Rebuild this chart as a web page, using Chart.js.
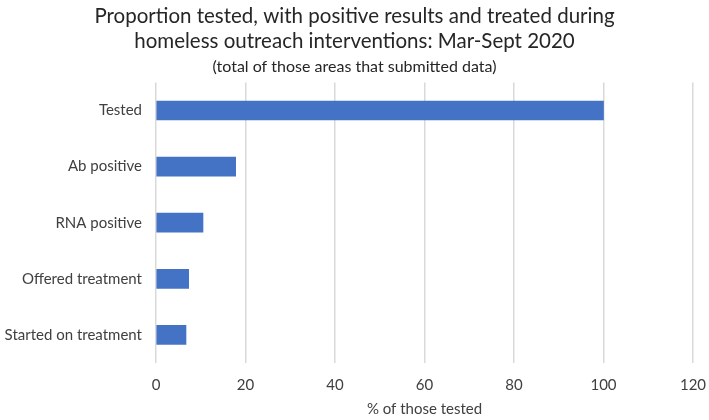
<!DOCTYPE html>
<html>
<head>
<meta charset="utf-8">
<script src="https://cdn.jsdelivr.net/npm/chart.js@4.4.0/dist/chart.umd.min.js"></script>
<style>
  html, body { margin: 0; padding: 0; background: #fff; }
  #wrap { width: 709px; height: 420px; }
</style>
</head>
<body>
<div id="wrap"><canvas id="grafico"></canvas></div>
<script>
// dados do gráfico
const categorias = ['Tested', 'Ab positive', 'RNA positive', 'Offered treatment', 'Started on treatment'];
const valores = [100, 17.8, 10.5, 7.3, 6.7];
const ticksX = [0, 20, 40, 60, 80, 100, 120];

const fonte = 'Lato, "Open Sans", sans-serif';

const ctx = document.getElementById('grafico').getContext('2d');
const grafico = new Chart(ctx, {
    type: 'bar',
    data: {
        labels: categorias,
        datasets: [{
            label: '% of those tested',
            data: valores,
            backgroundColor: '#4472C4',
            borderColor: '#4472C4',
            borderWidth: 0,
            barThickness: 19
        }]
    },
    options: {
        indexAxis: 'y',
        responsive: true,
        maintainAspectRatio: false,
        animation: false,
        layout: { padding: { left: 0, right: 0, top: 4, bottom: 0 } },
        plugins: {
            legend: { display: false },
            tooltip: { enabled: false },
            title: {
                display: true,
                text: ['Proportion tested, with positive results and treated during',
                       'homeless outreach interventions: Mar-Sept 2020'],
                font: { family: fonte, size: 20.5, weight: 'normal' },
                color: '#262626',
                lineHeight: 1.47,
                padding: { top: 0, bottom: 4 }
            },
            subtitle: {
                display: true,
                text: '(total of those areas that submitted data)',
                font: { family: fonte, size: 16, weight: 'normal' },
                color: '#262626',
                padding: { top: 0, bottom: 6 }
            }
        },
        scales: {
            x: {
                min: 0,
                max: 120,
                afterBuildTicks: (s) => { s.ticks = ticksX.map(v => ({ value: v })); },
                afterFit: (s) => { s.height = 57; s.paddingRight = 16; },
                grid: { color: '#d9d9d9', lineWidth: 1.5, drawTicks: false },
                border: { display: false },
                ticks: { font: { family: fonte, size: 15 }, color: '#404040', padding: 13 },
                title: {
                    display: true,
                    text: '% of those tested',
                    font: { family: fonte, size: 15 },
                    color: '#404040',
                    padding: { top: 0, bottom: 2 }
                }
            },
            y: {
                grid: { display: false, drawTicks: false },
                border: { display: false },
                afterFit: (s) => { s.width = 156; },
                ticks: { font: { family: fonte, size: 15 }, color: '#404040', padding: 14 }
            }
        }
    }
});
</script>
</body>
</html>
